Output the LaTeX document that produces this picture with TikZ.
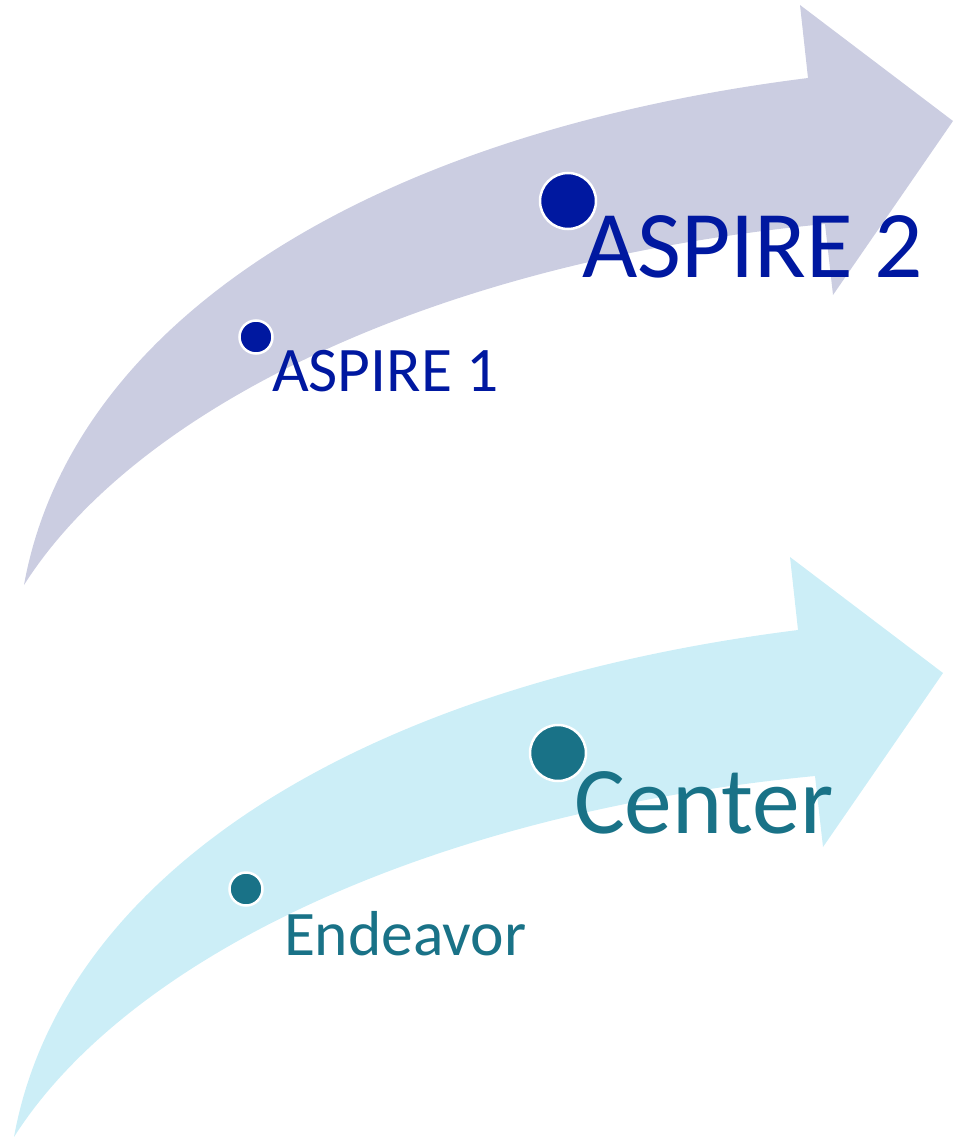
\documentclass[tikz,border=0pt]{standalone}
\usepackage{fontspec}
\setmainfont{Carlito}
\definecolor{lavfill}{RGB}{203,205,225}
\definecolor{darkblue}{RGB}{0,24,160}
\definecolor{cyanfill}{RGB}{204,238,247}
\definecolor{tealtext}{RGB}{25,114,135}
\tikzset{
  curvarrow/.pic={
    \fill[pic actions] (24,585) .. controls (70,330) and (355,135) .. (808,78)
      -- (800,5) -- (953,121) -- (833,295) -- (825,224)
      .. controls (430,262) and (135,410) .. (24,585) -- cycle;
  },
  smalldot/.style={circle, draw=white, line width=2.5pt, minimum size=33pt, inner sep=0pt, outer sep=0pt},
  bigdot/.style={circle, draw=white, line width=2.5pt, minimum size=56pt, inner sep=0pt, outer sep=0pt},
  smalltext/.style={anchor=base west, inner sep=0pt, outer sep=0pt, font=\fontsize{63.5}{70}\selectfont},
  bigtext/.style={anchor=base west, inner sep=0pt, outer sep=0pt, font=\fontsize{95.5}{100}\selectfont},
}
\begin{document}
\begin{tikzpicture}[x=1pt,y=-1pt]
\useasboundingbox (0,0) rectangle (967,1137);
% top arrow
\pic[fill=lavfill] {curvarrow};
\node[smalldot, fill=darkblue] (d1) at (256,337) {};
\node[bigdot, fill=darkblue] (d2) at (568,201) {};
\node[smalltext, text=darkblue] (t1) at (272,391) {ASPIRE 1};
\node[bigtext, text=darkblue] (t2) at (582,277) {ASPIRE 2};
% bottom arrow
\begin{scope}[shift={(-10,552)}]
\pic[fill=cyanfill] {curvarrow};
\end{scope}
\node[smalldot, fill=tealtext] (d3) at (246,889) {};
\node[bigdot, fill=tealtext] (d4) at (558,753) {};
\node[smalltext, text=tealtext] (t3) at (284,955) {Endeavor};
\node[bigtext, text=tealtext] (t4) at (574,833) {Center};
\end{tikzpicture}
\end{document}
